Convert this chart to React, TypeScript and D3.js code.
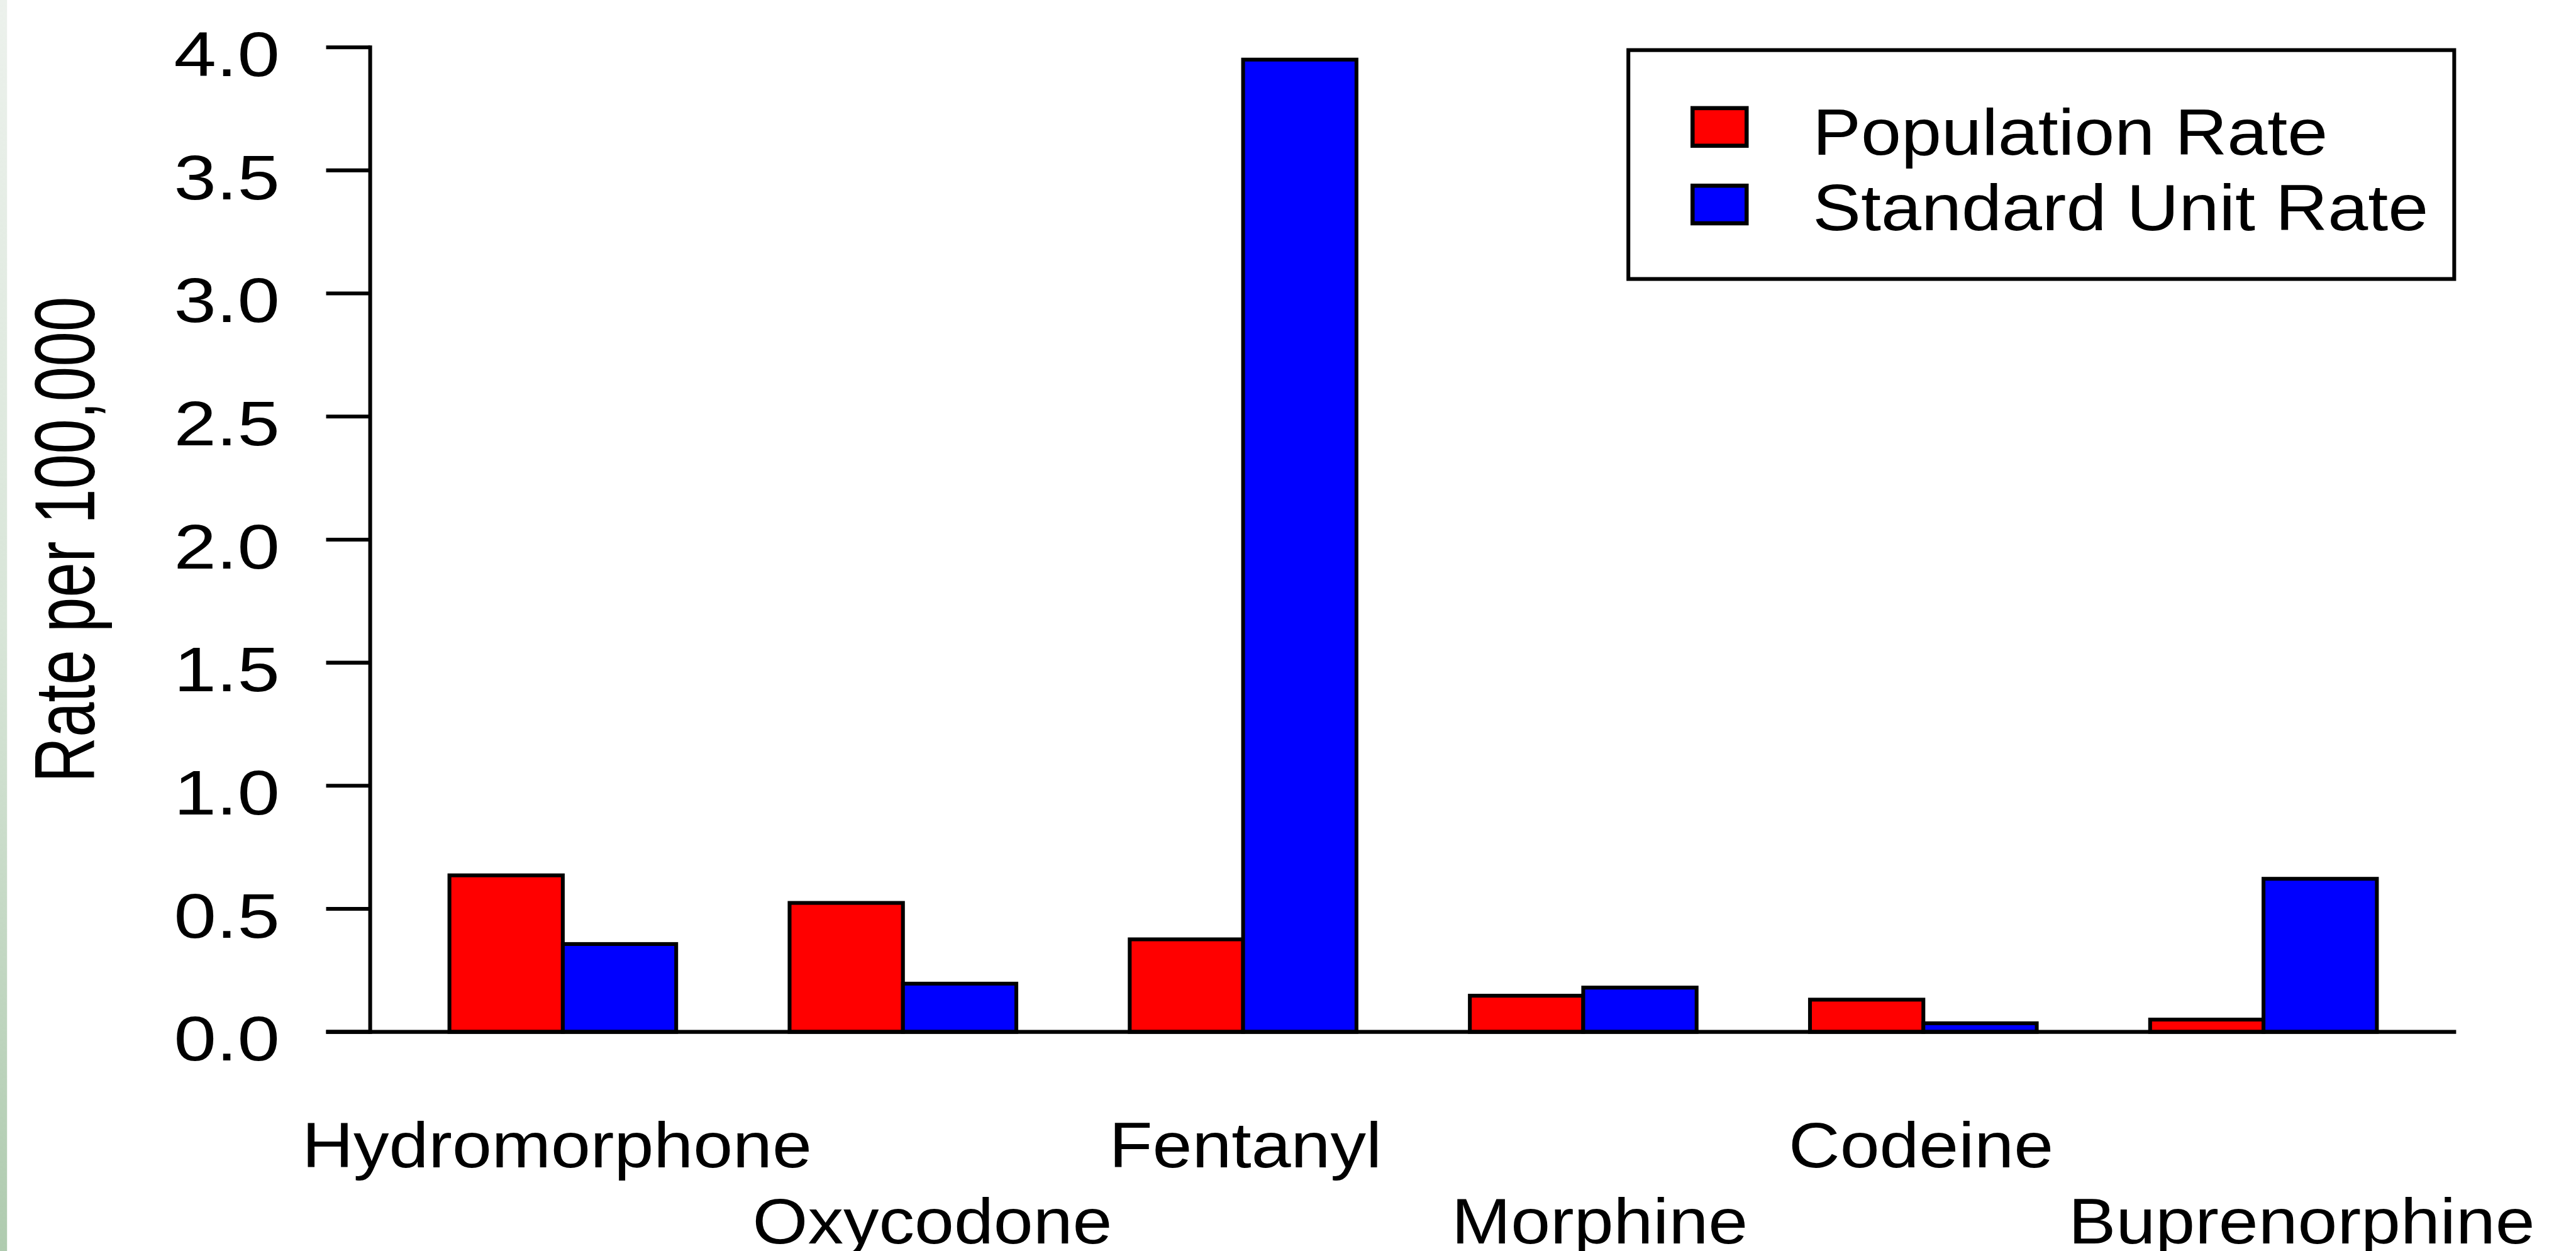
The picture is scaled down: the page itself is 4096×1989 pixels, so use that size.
import React from "react";
import * as d3 from "d3";

// values
const categories = ["Hydromorphone", "Oxycodone", "Fentanyl", "Morphine", "Codeine", "Buprenorphine"];
const populationRate = [0.636, 0.524, 0.376, 0.147, 0.131, 0.05];
const standardUnitRate = [0.357, 0.196, 3.95, 0.18, 0.035, 0.622];
const seriesNames = ["Population Rate", "Standard Unit Rate"];
const seriesColors = ["#ff0000", "#0000ff"];
const yTickValues = [0, 0.5, 1, 1.5, 2, 2.5, 3, 3.5, 4];
const yTitle = "Rate per 100,000";

// layout, in reference pixels (4384 x 2129), scaled to the window
const REF_W = 4384;
const REF_H = 2129;
const W = 4096;
const H = 1989;
const S = W / REF_W;

const axisX = 630;
const xEnd = 4180;
const y0 = 1756;
const yTop = 80.5;
const lw = 6.5;
const font = "'Liberation Sans', Arial, sans-serif";
// second-row labels sit a bit right of their bars in the original
const labelNudge = [-10, 50, 4, 28, -4, 65];

export default function App() {
  const x = d3
    .scaleBand()
    .domain(categories)
    .range([axisX, xEnd])
    .paddingInner(1 / 3)
    .paddingOuter(0.233);
  const xs = d3.scaleBand().domain(seriesNames).range([0, x.bandwidth()]);
  const y = d3.scaleLinear().domain([0, 4]).range([y0, yTop]);

  const rows = categories.map((c, i) => ({
    cat: c,
    vals: [populationRate[i], standardUnitRate[i]],
  }));

  return (
    <svg
      width={W}
      height={H}
      style={{ position: "absolute", left: 0, top: 0, display: "block", background: "#fff" }}
    >
      <defs>
        <linearGradient id="edge" x1="0" y1="0" x2="0" y2="1">
          <stop offset="0" stopColor="#ecf1ec" />
          <stop offset="0.5" stopColor="#d8e5d8" />
          <stop offset="1" stopColor="#afcbaf" />
        </linearGradient>
      </defs>
      <g transform={`scale(${S})`} fontFamily={font}>
        <rect x={0} y={0} width={REF_W} height={REF_H} fill="#fff" />
        <rect x={0} y={0} width={12} height={REF_H} fill="url(#edge)" />

        {/* bars */}
        {rows.map((r) =>
          r.vals.map((v, j) => (
            <rect
              key={r.cat + j}
              x={(x(r.cat) as number) + (xs(seriesNames[j]) as number)}
              y={y(v)}
              width={xs.bandwidth()}
              height={y0 - y(v)}
              fill={seriesColors[j]}
              stroke="#000"
              strokeWidth={lw}
            />
          ))
        )}

        {/* x axis line */}
        <line x1={axisX - 75} x2={xEnd} y1={y0} y2={y0} stroke="#000" strokeWidth={lw} />

        {/* y axis */}
        <line x1={axisX} x2={axisX} y1={y(0)} y2={y(4)} stroke="#000" strokeWidth={lw} strokeLinecap="square" />
        {yTickValues.map((t) => (
          <g key={t}>
            <line x1={axisX - 75} x2={axisX} y1={y(t)} y2={y(t)} stroke="#000" strokeWidth={lw} />
            <text
              transform={`translate(476,${y(t) + 49}) scale(1.2,1)`}
              textAnchor="end"
              fontSize={108}
              fill="#000"
            >
              {d3.format(".1f")(t)}
            </text>
          </g>
        ))}

        <text
          transform={`translate(161,${(y(0) + y(4)) / 2}) scale(1.36,1) rotate(-90)`}
          textAnchor="middle"
          fontSize={107}
          fill="#000"
        >
          {yTitle}
        </text>

        {/* category labels, staggered on two rows */}
        {categories.map((c, i) => (
          <text
            key={c}
            transform={`translate(${(x(c) as number) + x.bandwidth() / 2 + labelNudge[i]},${i % 2 === 0 ? 1987 : 2116}) scale(1.1,1)`}
            textAnchor="middle"
            fontSize={110}
            fill="#000"
          >
            {c}
          </text>
        ))}

        {/* legend */}
        <rect x={2771.25} y={85.25} width={1405.5} height={389.5} fill="#fff" stroke="#000" strokeWidth={lw} />
        {seriesNames.map((n, j) => (
          <g key={n}>
            <rect
              x={2880.5}
              y={[216, 348][j] - 32}
              width={92}
              height={64}
              fill={seriesColors[j]}
              stroke="#000"
              strokeWidth={7}
            />
            <text
              transform={`translate(3085,${[263, 392][j]}) scale(1.1,1)`}
              fontSize={112}
              fill="#000"
            >
              {n}
            </text>
          </g>
        ))}
      </g>
    </svg>
  );
}
